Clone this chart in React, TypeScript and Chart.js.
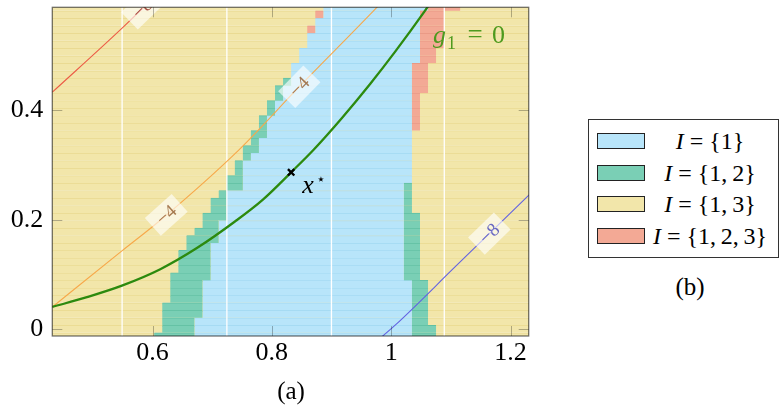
import React, { useEffect, useRef } from "react";
import { Chart, registerables } from "chart.js";

Chart.register(...registerables);

// ---------- axes ----------
const xTickValues = [0.6, 0.8, 1.0, 1.2];
const xTickLabels = ["0.6", "0.8", "1", "1.2"];
const yTickValues = [0, 0.2, 0.4];
const yTickLabels = ["0", "0.2", "0.4"];
const xMin = 0.432;
const xMax = 1.2305;
const yMin = -0.012;
const yMax = 0.588;

// ---------- cell grid (rows -1 .. 43) ----------
const cellColStart = 0.6028;
const cellColWidth = 0.0135;
const cellRowStart = -0.0062;
const cellRowHeight = 0.01367;
const firstRow = -1;
const gridColMin = -13;
const gridColMax = 47;

// left boundary: yellow ends / blue starts (column indices)
const leftYellowEnd = [0, 1, 1, 1, 1, 2, 2, 2, 2, 3, 3, 3, 4, 4, 5, 6, 6, 7, 7, 8, 9, 9, 10, 10, 11, 11, 12, 12, 13, 13, 14, 14, 15, 15, 16, 17, 17, 18, 18, 19, 19, 19, 20, 20, 21];
const leftBlueStart = [5, 5, 5, 6, 6, 6, 6, 6, 7, 7, 7, 7, 7, 8, 8, 8, 9, 9, 9, 9, 11, 11, 11, 11, 12, 13, 13, 14, 14, 14, 15, 15, 16, 16, 17, 17, 17, 18, 18, 19, 19, 20, 20, 21, 21];
const leftKind = "ggggg ggggg ggggg ggggg ggggg ggggg ggggg ggggg g rgrg".replace(/ /g, "");
// right boundary: blue ends / right region ends
const rightBlueEnd = [32, 32, 32, 32, 32, 32, 32, 32, 31, 31, 31, 31, 31, 31, 31, 31, 31, 31, 31, 31, 31, 32, 32, 32, 32, 32, 32, 32, 32, 32, 32, 32, 32, 32, 32, 32, 32, 33, 33, 33, 33, 33, 33, 33, 34];
const rightRegionEnd = [35, 35, 34, 34, 34, 34, 34, 34, 33, 33, 33, 33, 33, 33, 33, 33, 33, 32, 32, 32, 32, 32, 32, 32, 32, 32, 32, 32, 33, 33, 33, 33, 33, 34, 34, 34, 34, 35, 35, 36, 36, 36, 36, 36, 38];
const rightKind = "ggggg ggggg ggggg ggggg g nnnnnnn rrrrr rrrrr rrrrr rr".replace(/ /g, "");

// ---------- curves ----------
const g1X = [0.432, 0.49, 0.5487, 0.613, 0.675, 0.7387, 0.785, 0.8323, 0.87, 0.9175, 0.9647, 1.0067, 1.0556, 1.07];
const g1Y = [0.041, 0.059, 0.08, 0.11, 0.149, 0.1975, 0.237, 0.2868, 0.328, 0.386, 0.448, 0.507, 0.58, 0.603];
const orangeX = [0.432, 0.5487, 0.613, 0.744, 0.846, 0.9647, 0.99];
const orangeY = [0.041, 0.1433, 0.1993, 0.327, 0.443, 0.575, 0.604];
const redX = [0.432, 0.549, 0.62];
const redY = [0.433, 0.55, 0.625];
const blueX = [0.975, 1.0067, 1.107, 1.1645, 1.24];
const blueY = [-0.022, 0.0078, 0.114, 0.175, 0.255];
const whiteLineX = [0.549, 0.7246, 0.8999, 1.089];
const xStar = [0.8323, 0.2868];

// contour labels
const labelLine = ["orange", "orange", "red", "blue"];
const labelX = [0.623, 0.846, 0.583, 1.1645];
const labelText = ["\u22124", "\u22124", "\u22128", "\u22128"];
const g1LabelPos = [1.0702, 0.5222];

// legend
const legendLabels = ["{1}", "{1,\u20092}", "{1,\u20093}", "{1,\u20092,\u20093}"];
const legendColors = ["#B8E5FA", "#7ACFB5", "#F2E6AA", "#F3A995"];

// ---------- helpers ----------
const COL = {
  blue: "#B8E5FA",
  blueLine: "#A2D9F2",
  green: "#7ACFB5",
  greenLine: "#60BFA2",
  yellow: "#F2E6AA",
  yellowLine: "#E9D98F",
  red: "#F3A995",
  redLine: "#E89884",
};

const rowY = (i: number) => cellRowStart + (i + firstRow + 0.5) * cellRowHeight;
const colX = (c: number) => cellColStart + c * cellColWidth;

function interp(xs: number[], ys: number[], x: number) {
  for (let i = 0; i < xs.length - 1; i++) {
    if (x >= xs[i] && x <= xs[i + 1]) {
      const t = (x - xs[i]) / (xs[i + 1] - xs[i]);
      return ys[i] + t * (ys[i + 1] - ys[i]);
    }
  }
  return x < xs[0] ? ys[0] : ys[ys.length - 1];
}

const lineData: Record<string, [number[], number[], string, string]> = {
  orange: [orangeX, orangeY, "rgb(247,168,74)", "rgba(150,100,55,0.85)"],
  red: [redX, redY, "rgb(236,92,70)", "rgba(150,50,40,0.85)"],
  blue: [blueX, blueY, "rgb(98,98,226)", "rgba(90,90,190,0.9)"],
};

function buildCells() {
  const yellow: any[] = [];
  const blue: any[] = [];
  const green: any[] = [];
  const red: any[] = [];
  for (let i = 0; i < leftYellowEnd.length; i++) {
    const y = rowY(i);
    yellow.push({ y, x: [colX(gridColMin), colX(gridColMax)] });
    blue.push({ y, x: [colX(leftBlueStart[i]), colX(rightBlueEnd[i])] });
    if (leftBlueStart[i] > leftYellowEnd[i]) {
      const cell = { y, x: [colX(leftYellowEnd[i]), colX(leftBlueStart[i])] };
      (leftKind[i] === "r" ? red : green).push(cell);
    }
    if (rightRegionEnd[i] > rightBlueEnd[i] && rightKind[i] !== "n") {
      const cell = { y, x: [colX(rightBlueEnd[i]), colX(rightRegionEnd[i])] };
      (rightKind[i] === "r" ? red : green).push(cell);
    }
  }
  return { yellow, blue, green, red };
}

const SERIF = '"Liberation Serif", "DejaVu Serif", serif';

const overlayPlugin = {
  id: "overlay",
  afterDatasetsDraw(chart: any) {
    const { ctx, chartArea: a } = chart;
    const sx = chart.scales.x;
    const sy = chart.scales.y;
    ctx.save();
    ctx.beginPath();
    ctx.rect(a.left, a.top, a.right - a.left, a.bottom - a.top);
    ctx.clip();

    // contour labels
    for (let k = 0; k < labelLine.length; k++) {
      const [xs, ys, , textColor] = lineData[labelLine[k]];
      const xv = labelX[k];
      const px = sx.getPixelForValue(xv);
      const py = sy.getPixelForValue(interp(xs, ys, xv));
      const qx = sx.getPixelForValue(xv + 0.01);
      const qy = sy.getPixelForValue(interp(xs, ys, xv + 0.01));
      const ang = Math.atan2(qy - py, qx - px);
      ctx.save();
      ctx.translate(px, py);
      ctx.rotate(ang);
      ctx.fillStyle = "rgba(255,255,255,0.62)";
      ctx.fillRect(-18, -12, 36, 24);
      ctx.fillStyle = textColor;
      ctx.font = `19px ${SERIF}`;
      ctx.textAlign = "center";
      ctx.textBaseline = "middle";
      ctx.fillText(labelText[k], 0, 1);
      ctx.restore();
    }

    // x* label
    const mx = sx.getPixelForValue(xStar[0]);
    const my = sy.getPixelForValue(xStar[1]);
    ctx.fillStyle = "#000";
    ctx.textAlign = "left";
    ctx.textBaseline = "alphabetic";
    ctx.font = `italic 26px ${SERIF}`;
    ctx.fillText("x", mx + 11, my + 21);
    ctx.font = `15px "DejaVu Sans", sans-serif`;
    ctx.fillText("\u22C6", mx + 25, my + 12);

    // g1 = 0 label
    const gx = sx.getPixelForValue(g1LabelPos[0]);
    const gy = sy.getPixelForValue(g1LabelPos[1]);
    ctx.fillStyle = "#4E9A1E";
    ctx.font = `italic 26px ${SERIF}`;
    ctx.fillText("g", gx, gy);
    ctx.font = `18px ${SERIF}`;
    ctx.fillText("1", gx + 14, gy + 6);
    ctx.font = `27px ${SERIF}`;
    ctx.textAlign = "center";
    ctx.fillText("=", gx + 42, gy);
    ctx.textAlign = "left";
    ctx.font = `26px ${SERIF}`;
    ctx.fillText("0", gx + 59, gy);
    ctx.restore();

    // inner tick marks
    ctx.save();
    ctx.strokeStyle = "rgba(0,0,0,0.28)";
    ctx.lineWidth = 1;
    const seg = (x1: number, y1: number, x2: number, y2: number) => {
      ctx.beginPath();
      ctx.moveTo(x1, y1);
      ctx.lineTo(x2, y2);
      ctx.stroke();
    };
    xTickValues.forEach((v) => {
      const p = Math.round(sx.getPixelForValue(v)) + 0.5;
      seg(p, a.bottom, p, a.bottom - 10);
      seg(p, a.top, p, a.top + 10);
    });
    yTickValues.forEach((v) => {
      const p = Math.round(sy.getPixelForValue(v)) + 0.5;
      seg(a.left, p, a.left + 10, p);
      seg(a.right, p, a.right - 10, p);
    });
    // frame
    ctx.strokeStyle = "rgba(0,0,0,0.55)";
    ctx.lineWidth = 1.3;
    ctx.strokeRect(a.left, a.top, a.right - a.left, a.bottom - a.top);
    ctx.restore();
  },
};

export default function App() {
  const canvasRef = useRef<HTMLCanvasElement>(null);

  useEffect(() => {
    const canvas = canvasRef.current;
    if (!canvas) return;
    const cells = buildCells();
    const barCommon = {
      type: "bar",
      indexAxis: "y",
      grouped: false,
      categoryPercentage: 1,
      barPercentage: 1,
      borderSkipped: false,
      borderWidth: { top: 1, right: 0, bottom: 0, left: 0 },
      clip: 0,
    };
    const lineCommon = {
      type: "line",
      indexAxis: "x",
      pointRadius: 0,
      fill: false,
      clip: 0,
    };
    const toPts = (xs: number[], ys: number[]) => xs.map((x, i) => ({ x, y: ys[i] }));

    const datasets: any[] = [
      {
        type: "scatter",
        label: "x*",
        data: [{ x: xStar[0], y: xStar[1] }],
        pointStyle: "crossRot",
        pointRadius: 4.5,
        borderColor: "#000",
        backgroundColor: "#000",
        borderWidth: 2.4,
        order: 0,
      },
      {
        ...lineCommon,
        label: "g1 = 0",
        data: toPts(g1X, g1Y),
        borderColor: "#2C8A0E",
        borderWidth: 2.3,
        cubicInterpolationMode: "monotone",
        order: 1,
      },
      {
        ...lineCommon,
        label: "c-orange",
        data: toPts(orangeX, orangeY),
        borderColor: lineData.orange[2],
        borderWidth: 1.1,
        cubicInterpolationMode: "monotone",
        order: 2,
      },
      {
        ...lineCommon,
        label: "c-red",
        data: toPts(redX, redY),
        borderColor: lineData.red[2],
        borderWidth: 1.1,
        cubicInterpolationMode: "monotone",
        order: 2,
      },
      {
        ...lineCommon,
        label: "c-blue",
        data: toPts(blueX, blueY),
        borderColor: lineData.blue[2],
        borderWidth: 1.1,
        cubicInterpolationMode: "monotone",
        order: 2,
      },
      ...whiteLineX.map((v) => ({
        ...lineCommon,
        label: "grid",
        data: [
          { x: v, y: yMin - 0.05 },
          { x: v, y: yMax + 0.05 },
        ],
        borderColor: "#ffffff",
        borderWidth: 1.3,
        order: 3,
      })),
      { ...barCommon, label: "I={1,2,3}", data: cells.red, backgroundColor: COL.red, borderColor: COL.redLine, order: 4 },
      { ...barCommon, label: "I={1,2}", data: cells.green, backgroundColor: COL.green, borderColor: COL.greenLine, order: 4 },
      { ...barCommon, label: "I={1}", data: cells.blue, backgroundColor: COL.blue, borderColor: COL.blueLine, order: 5 },
      { ...barCommon, label: "I={1,3}", data: cells.yellow, backgroundColor: COL.yellow, borderColor: COL.yellowLine, order: 6 },
    ];

    const tickFont = { family: SERIF, size: 26 };
    const chart = new Chart(canvas, {
      type: "scatter",
      data: { datasets },
      options: {
        animation: false,
        responsive: false,
        events: [],
        layout: { padding: { left: 0, top: 7.3, right: 31.3, bottom: 0 } },
        plugins: { legend: { display: false }, tooltip: { enabled: false } },
        scales: {
          x: {
            type: "linear",
            min: xMin,
            max: xMax,
            offset: false,
            grid: { display: false, drawTicks: false },
            border: { display: false },
            afterBuildTicks: (s: any) => {
              s.ticks = xTickValues.map((v) => ({ value: v }));
            },
            afterFit: (s: any) => {
              s.height = 44;
              s.paddingLeft = 0;
              s.paddingRight = 0;
            },
            ticks: {
              autoSkip: false,
              maxRotation: 0,
              padding: 2,
              color: "#000",
              font: tickFont,
              callback: (_v: any, i: number) => xTickLabels[i],
            },
          },
          y: {
            type: "linear",
            min: yMin,
            max: yMax,
            offset: false,
            grid: { display: false, drawTicks: false },
            border: { display: false },
            afterBuildTicks: (s: any) => {
              s.ticks = yTickValues.map((v) => ({ value: v }));
            },
            afterFit: (s: any) => {
              s.width = 52.3;
              s.paddingTop = 0;
              s.paddingBottom = 0;
            },
            ticks: {
              autoSkip: false,
              padding: 9,
              color: "#000",
              font: tickFont,
              callback: (_v: any, i: number) => yTickLabels[i],
            },
          },
        },
      } as any,
      plugins: [overlayPlugin],
    } as any);
    return () => chart.destroy();
  }, []);

  const swatchTop = (i: number) => 14 + i * 31.67;

  return (
    <div
      style={{
        position: "absolute",
        left: 0,
        top: 0,
        width: 780,
        height: 405,
        background: "#fff",
        fontFamily: SERIF,
        color: "#000",
      }}
    >
      <canvas
        ref={canvasRef}
        width={560}
        height={380}
        style={{ position: "absolute", left: 0, top: 0, width: 560, height: 380 }}
      />
      <div
        style={{
          position: "absolute",
          left: 241,
          top: 377,
          width: 100,
          lineHeight: "28px",
          fontSize: 25,
          textAlign: "center",
        }}
      >
        (a)
      </div>
      <div
        style={{
          position: "absolute",
          left: 588,
          top: 119,
          width: 191,
          height: 139,
          boxSizing: "border-box",
          border: "1px solid #333",
          background: "#fff",
        }}
      >
        {legendLabels.map((lab, i) => (
          <React.Fragment key={lab}>
            <div
              style={{
                position: "absolute",
                left: 8,
                top: swatchTop(i) - 1,
                width: 48,
                height: 16,
                boxSizing: "border-box",
                border: "1px solid #222",
                background: legendColors[i],
              }}
            />
            <div
              style={{
                position: "absolute",
                left: 56,
                top: swatchTop(i) - 1 + 8 - 14,
                width: 130,
                height: 28,
                lineHeight: "28px",
                fontSize: 24,
                textAlign: "center",
                whiteSpace: "nowrap",
              }}
            >
              <i>I</i>
              {" = "}
              {lab}
            </div>
          </React.Fragment>
        ))}
      </div>
      <div
        style={{
          position: "absolute",
          left: 640,
          top: 273,
          width: 100,
          lineHeight: "28px",
          fontSize: 25,
          textAlign: "center",
        }}
      >
        (b)
      </div>
    </div>
  );
}
